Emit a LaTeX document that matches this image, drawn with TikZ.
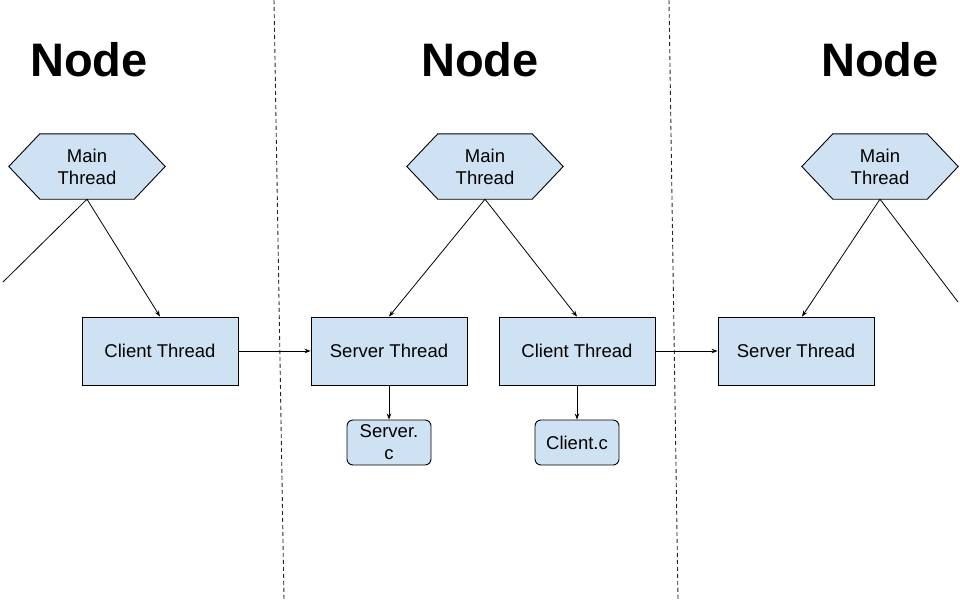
\documentclass[tikz,border=0pt]{standalone}
\usepackage{fontspec}
\setmainfont{Liberation Sans}
\usetikzlibrary{arrows.meta}
\pgfdeclarelayer{background}
\pgfsetlayers{background,main}
\definecolor{boxblue}{HTML}{CFE2F3}
\begin{document}
\begin{tikzpicture}[x=1pt,y=-1pt,
  every node/.style={font=\fontsize{18.5}{22}\selectfont},
  thread/.style={draw=black,fill=boxblue,line width=0.9pt,minimum width=156pt,minimum height=68pt,inner sep=0pt},
  file/.style={draw=black,fill=boxblue,line width=0.9pt,rounded corners=6pt,minimum width=84pt,minimum height=45pt,inner sep=0pt,align=center},
  hexin/.style={minimum width=94pt,minimum height=65pt,inner sep=0pt,align=center},
  hexfill/.style={draw=black,fill=boxblue,line width=0.9pt},
  title/.style={font=\fontsize{47}{50}\selectfont\bfseries},
  conn/.style={line width=0.8pt,-{Stealth[length=6pt,width=4.5pt]}},
  plain/.style={line width=0.8pt},
  divider/.style={line width=0.9pt,draw=black!85,dash pattern=on 4pt off 3pt}]
\useasboundingbox (0,0) rectangle (960,600);
% dividers
\coordinate (d1t) at (274,0); \coordinate (d1b) at (284,600);
\coordinate (d2t) at (669,0); \coordinate (d2b) at (678,600);
\draw[divider] (d1t) -- (d1b);
\draw[divider] (d2t) -- (d2b);
% titles
\node[title] (t1) at (89,60) {Node};
\node[title] (t2) at (480,60) {Node};
\node[title] (t3) at (880,60) {Node};
% hexagons
\node[hexin] (m1) at (87,166.5) {Main\\Thread};
\node[hexin] (m2) at (485,166.5) {Main\\Thread};
\node[hexin] (m3) at (880,166.5) {Main\\Thread};
\begin{pgfonlayer}{background}
\foreach \m in {m1,m2,m3}{
  \draw[hexfill] (\m.north west) -- (\m.north east) -- ([xshift=31pt]\m.east) -- (\m.south east) -- (\m.south west) -- ([xshift=-31pt]\m.west) -- cycle;
}
\end{pgfonlayer}
% thread boxes
\node[thread] (c1) at (160,351) {Client Thread};
\node[thread] (s2) at (389,351) {Server Thread};
\node[thread] (c2) at (577,351) {Client Thread};
\node[thread] (s3) at (796,351) {Server Thread};
% files
\node[file] (sf) at (389,442.5) {Server.\\c};
\node[file] (cf) at (577,442.5) {Client.c};
% free ends
\coordinate (l1) at (3,282);
\coordinate (r3) at (958,302);
% connectors
\draw[plain] (m1.south) -- (l1);
\draw[conn] (m1.south) -- (c1.north);
\draw[conn] (m2.south) -- (s2.north);
\draw[conn] (m2.south) -- (c2.north);
\draw[conn] (m3.south) -- ([xshift=6pt]s3.north);
\draw[plain] (m3.south) -- (r3);
\draw[conn] (c1.east) -- (s2.west);
\draw[conn] (c2.east) -- (s3.west);
\draw[conn] (s2.south) -- (sf.north);
\draw[conn] (c2.south) -- (cf.north);
\end{tikzpicture}
\end{document}
